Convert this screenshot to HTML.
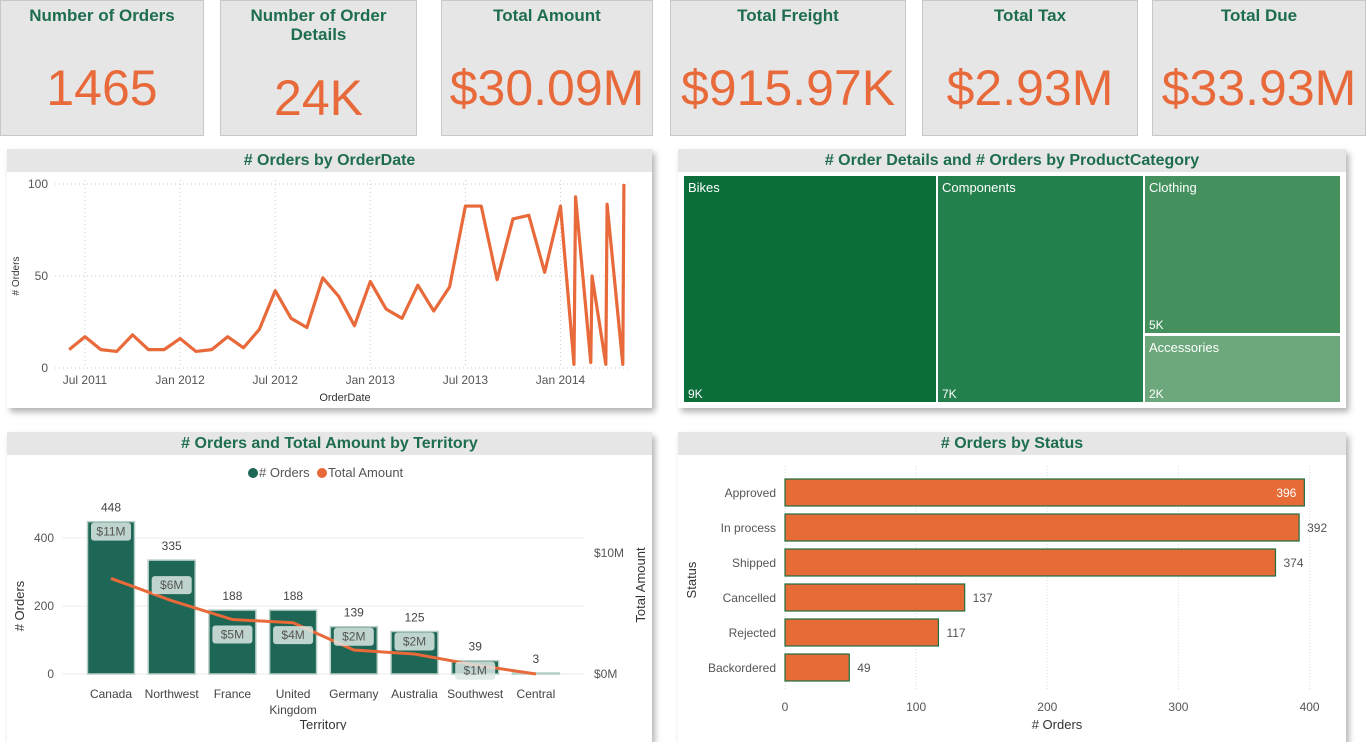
<!DOCTYPE html>
<html><head><meta charset="utf-8">
<style>
*{box-sizing:border-box;margin:0;padding:0}
body{width:1366px;height:730px;background:#fff;position:relative;overflow:hidden;font-family:"Liberation Sans",sans-serif}
.card{position:absolute;top:0;height:136px;background:#e6e6e6;border:1px solid #c8c8c8;text-align:center}
.card .t{color:#1e6e4e;font-weight:bold;font-size:17px;line-height:19px;margin-top:5px;font-family:"Liberation Sans Narrow","Liberation Sans",sans-serif}
.card .v{color:#e8693a;font-size:50px;position:absolute;left:0;right:0;top:58px}
.panel{position:absolute;background:#fff;box-shadow:3px 4px 6px rgba(0,0,0,0.3)}
.hdr{height:23px;background:#e6e6e6;color:#1e6e4e;font-weight:bold;font-size:16px;text-align:center;line-height:23px}
svg text{font-family:"Liberation Sans",sans-serif}
</style></head><body>
<div class="card" style="left:0;width:204px"><div class="t">Number of Orders</div><div class="v" style="top:58px">1465</div></div>
<div class="card" style="left:220px;width:197px"><div class="t">Number of Order<br>Details</div><div class="v" style="top:68px">24K</div></div>
<div class="card" style="left:441px;width:212px"><div class="t">Total Amount</div><div class="v">$30.09M</div></div>
<div class="card" style="left:670px;width:236px"><div class="t">Total Freight</div><div class="v">$915.97K</div></div>
<div class="card" style="left:922px;width:216px"><div class="t">Total Tax</div><div class="v">$2.93M</div></div>
<div class="card" style="left:1152px;width:214px"><div class="t">Total Due</div><div class="v">$33.93M</div></div>

<div class="panel" style="left:7px;top:149px;width:645px;height:259px"><div class="hdr"># Orders by OrderDate</div></div>
<div class="panel" style="left:678px;top:149px;width:668px;height:259px"><div class="hdr"># Order Details and # Orders by ProductCategory</div></div>
<div class="panel" style="left:7px;top:432px;width:645px;height:310px"><div class="hdr"># Orders and Total Amount by Territory</div></div>
<div class="panel" style="left:678px;top:432px;width:668px;height:310px"><div class="hdr"># Orders by Status</div></div>

<svg id="s" width="1366" height="730" style="position:absolute;left:0;top:0"></svg>
<script>
// line chart data: month index (0 = Jul 2011), values
const lineMonths=[-1,0,1,2,3,4,5,6,7,8,9,10,11,12,13,14,15,16,17,18,19,20,21,22,23,24,25,26,27,28,29,30,30.85,30.95,31.91,31.99,32.86,32.94,33.93,34.0];
const lineValues=[10,17,10,9,18,10,10,16,9,10,17,11,21,42,27,22,49,39,23,47,32,27,45,31,44,88,88,48,81,83,52,88,2,93,3,50,2,89,2,100];
const lineTickLabels=["Jul 2011","Jan 2012","Jul 2012","Jan 2013","Jul 2013","Jan 2014"];
const lineTickMonths=[0,6,12,18,24,30];
const lineYTicks=[0,50,100];
// treemap
const treeCats=["Bikes","Components","Clothing","Accessories"];
const treeLabels=["9K","7K","5K","2K"];
// territory
const terrCats=["Canada","Northwest","France","United Kingdom","Germany","Australia","Southwest","Central"];
const terrOrders=[448,335,188,188,139,125,39,3];
const terrAmounts=[7.9,6.06,4.5,4.24,1.98,1.65,0.74,0.0];
const terrAmountLabels=["$11M","$6M","$5M","$4M","$2M","$2M","$1M",""];
const terrYTicks=[0,200,400];
// status
const statusCats=["Approved","In process","Shipped","Cancelled","Rejected","Backordered"];
const statusValues=[396,392,374,137,117,49];
const statusXTicks=[0,100,200,300,400];

const S=document.getElementById('s');const NS='http://www.w3.org/2000/svg';
function mk(tag,attrs,txt){const e=document.createElementNS(NS,tag);for(const k in attrs)e.setAttribute(k,attrs[k]);if(txt!==undefined)e.textContent=txt;S.appendChild(e);return e;}
const OR='#e8693a',GR='#1e6e4e';

// ---- line chart
const lx=m=>85+m*15.85, ly=v=>368-v*1.84;
lineYTicks.forEach(t=>{const g=mk('line',{x1:55,x2:630,y1:ly(t),y2:ly(t),stroke:'#ccc','stroke-dasharray':'1,3'});
const tx=mk('text',{x:48,y:ly(t)+4,'text-anchor':'end','font-size':12,fill:'#555'},t);});
lineTickMonths.forEach((m,i)=>{const g=mk('line',{x1:lx(m),x2:lx(m),y1:180,y2:368,stroke:'#ccc','stroke-dasharray':'1,3'});
const tx=mk('text',{x:lx(m),y:384,'text-anchor':'middle','font-size':12,fill:'#555'},lineTickLabels[i]);});
let t1=mk('text',{x:345,y:401,'text-anchor':'middle','font-size':11,fill:'#333'},'OrderDate');
t1=mk('text',{x:19,y:276,'text-anchor':'middle','font-size':10,fill:'#333',transform:'rotate(-90 19 276)'},'# Orders');
const lp=mk('polyline',{points:lineMonths.map((m,i)=>lx(m)+','+ly(lineValues[i])).join(' '),fill:'none',stroke:OR,'stroke-width':3.2,'stroke-linejoin':'round'});


// ---- treemap
const tiles=[[684,176,252,226,'#0b6e3a'],[938,176,205,226,'#237f4c'],[1145,176,195,157,'#44915e'],[1145,336,195,66,'#6da87c']];
tiles.forEach((r,i)=>{const e=mk('rect',{x:r[0],y:r[1],width:r[2],height:r[3],fill:r[4]});
let a=mk('text',{x:r[0]+4,y:r[1]+16,'font-size':13,fill:'#fff'},treeCats[i]);
a=mk('text',{x:r[0]+4,y:r[1]+r[3]-4,'font-size':12,fill:'#fff'},treeLabels[i]);});

// ---- territory combo
const tx0=111,tdx=60.7,ty=v=>674-v*0.34,tyr=v=>674-v*12.1;
terrYTicks.forEach(t=>{const g=mk('line',{x1:62,x2:585,y1:ty(t),y2:ty(t),stroke:'#eee'});
const a=mk('text',{x:54,y:ty(t)+4,'text-anchor':'end','font-size':12,fill:'#555'},t);});
[[0,'$0M'],[10,'$10M']].forEach(p=>{const a=mk('text',{x:594,y:tyr(p[0])+4,'font-size':12,fill:'#555'},p[1]);});
terrCats.forEach((c,i)=>{const cx=tx0+i*tdx;const r=mk('rect',{x:cx-23.5,y:ty(terrOrders[i]),width:47,height:674-ty(terrOrders[i]),fill:'#1e6655',stroke:'#b8cfc7','stroke-width':1.5});

let a=mk('text',{x:cx,y:ty(terrOrders[i])-10,'text-anchor':'middle','font-size':12,fill:'#444'},terrOrders[i]);
const parts=c==='United Kingdom'?['United','Kingdom']:[c];
parts.forEach((p,j)=>{const b=mk('text',{x:cx,y:698+j*16,'text-anchor':'middle','font-size':12,fill:'#444'},p);});});
const tlp=mk('polyline',{points:terrCats.map((c,i)=>(tx0+i*tdx)+','+tyr(terrAmounts[i])).join(' '),fill:'none',stroke:OR,'stroke-width':3});

terrCats.forEach((c,i)=>{if(!terrAmountLabels[i])return;const cx=tx0+i*tdx;const top=ty(terrOrders[i]);const line=tyr(terrAmounts[i]);
let y;if(674-top<60||line-top>50)y=top+10;else y=Math.min(line+15,top+25);
const b=mk('rect',{x:cx-20,y:y-9,width:40,height:18,rx:3,fill:'rgba(220,232,228,0.85)'});
const a=mk('text',{x:cx,y:y+4,'text-anchor':'middle','font-size':12,fill:'#555'},terrAmountLabels[i]);});
let l=mk('circle',{cx:253,cy:473,r:5,fill:'#1e6655'});
l=mk('text',{x:259,y:477,'font-size':13,fill:'#555'},'# Orders');
l=mk('circle',{cx:322,cy:473,r:5,fill:OR});
l=mk('text',{x:328,y:477,'font-size':13,fill:'#555'},'Total Amount');
l=mk('text',{x:24,y:606,'text-anchor':'middle','font-size':13,fill:'#333',transform:'rotate(-90 24 606)'},'# Orders');
l=mk('text',{x:645,y:585,'text-anchor':'middle','font-size':13,fill:'#333',transform:'rotate(-90 645 585)'},'Total Amount');
l=mk('text',{x:323,y:729,'text-anchor':'middle','font-size':13,fill:'#333'},'Territory');

// ---- status bars
const sx=v=>785+v*1.3115, sy=i=>479+i*35;
statusXTicks.forEach(t=>{const g=mk('line',{x1:sx(t),x2:sx(t),y1:466,y2:690,stroke:'#ddd','stroke-dasharray':'1,2'});
const a=mk('text',{x:sx(t),y:711,'text-anchor':'middle','font-size':12,fill:'#555'},t);});
statusCats.forEach((c,i)=>{const r=mk('rect',{x:sx(0),y:sy(i),width:sx(statusValues[i])-sx(0),height:27,fill:'#e66b37',stroke:'#1e6e3e','stroke-width':1.2});

let a=mk('text',{x:776,y:sy(i)+18,'text-anchor':'end','font-size':12,fill:'#555'},c);
const inside=statusValues[i]>=395;
a=mk('text',{x:inside?sx(statusValues[i])-8:sx(statusValues[i])+8,y:sy(i)+18,'text-anchor':inside?'end':'start','font-size':12,fill:inside?'#fff':'#555'},statusValues[i]);});
l=mk('text',{x:696,y:580,'text-anchor':'middle','font-size':13,fill:'#333',transform:'rotate(-90 696 580)'},'Status');
l=mk('text',{x:1057,y:729,'text-anchor':'middle','font-size':13,fill:'#333'},'# Orders');
</script>
</body></html>
